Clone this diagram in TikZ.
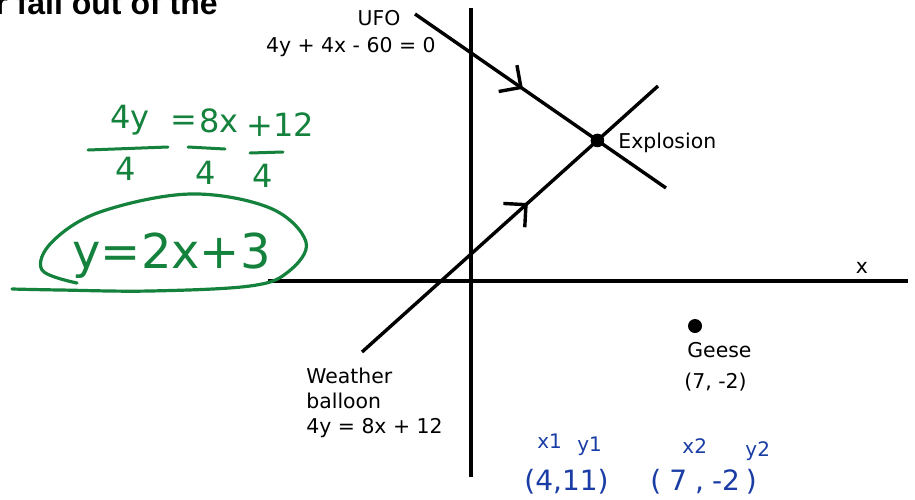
\documentclass[tikz,border=0pt]{standalone}
\usepackage{fontspec}
\setmainfont{DejaVu Sans}
\newfontfamily\headfont{Liberation Sans}
\usetikzlibrary{arrows.meta,decorations.markings}
\definecolor{inkgreen}{RGB}{20,130,60}
\definecolor{inkblue}{RGB}{25,60,165}
\tikzset{
  axis/.style={line width=1.7pt},
  pathline/.style={line width=1.7pt,postaction={decorate},
    decoration={markings,mark=at position #1 with {\arrow{Straight Barb[length=8pt,width=16pt]}}}},
  lbl/.style={inner sep=0pt,font=\fontsize{10.2}{12.5}\selectfont},
  greenink/.style={inner sep=0pt,text=inkgreen,font=\fontsize{16}{18}\selectfont},
  greenstroke/.style={inkgreen,line width=1.5pt,line cap=round},
  blueink/.style={inner sep=0pt,text=inkblue,font=\fontsize{14}{16}\selectfont},
  bluesmall/.style={inner sep=0pt,text=inkblue,font=\fontsize{10}{11}\selectfont},
}

\begin{document}
\begin{tikzpicture}[x=0.5pt,y=-0.5pt]
\useasboundingbox (0,0) rectangle (915,499);
\clip (0,0) rectangle (915,499);
\node[inner sep=0pt,anchor=base east,font=\headfont\bfseries\fontsize{16}{18}\selectfont] (head) at (218,14) {r fall out of the};

% axes
\coordinate (yTop) at (471,8);
\coordinate (yBot) at (471,477);
\coordinate (xLeft) at (268,281);
\coordinate (xRight) at (908,281);
\draw[axis] (yTop) -- (yBot);
\draw[axis] (xLeft) -- (xRight);
\node[lbl,anchor=base] (xlab) at (862,273) {x};

% paths
\coordinate (ufoA) at (415,14);
\coordinate (ufoB) at (666,188);
\coordinate (wbA) at (362,352);
\coordinate (wbB) at (658,86);
\draw[pathline=0.43] (ufoA) -- (ufoB);
\draw[pathline=0.56] (wbA) -- (wbB);
\coordinate (boom) at (intersection of ufoA--ufoB and wbA--wbB);
\fill (boom) circle (3.4pt);
\node[lbl,anchor=base west] (explosion) at (618,148) {Explosion};
\node[lbl,anchor=base] (ufo) at (379,25) {UFO};
\node[lbl,anchor=base east] (ufoeq) at (436,52) {4y + 4x - 60 = 0};
\node[lbl,anchor=base west] (weather) at (306,383) {Weather};
\node[lbl,anchor=base west] (balloon) at (306,408) {balloon};
\node[lbl,anchor=base west] (wbeq) at (306,433) {4y = 8x + 12};

\fill (695,326) coordinate (geese) circle (3.5pt);
\node[lbl,anchor=base west] (geeselab) at (687,357) {Geese};
\node[lbl,anchor=base west] (geesept) at (684,388) {(7, -2)};

% green working
\node[greenink,anchor=base west] (g4y) at (110,128) {4y};
\node[greenink,anchor=base west] (geq) at (170,130) {=};
\node[greenink,anchor=base west] (g8x) at (199,132) {8x};
\node[greenink,anchor=base west] (g12) at (246,136) {+12};
\draw[greenstroke] (88,150) -- (168,147);
\draw[greenstroke] (188,147) -- (225,149);
\draw[greenstroke] (250,153) -- (283,152);
\node[greenink,anchor=base] (d1) at (126,180) {4};
\node[greenink,anchor=base] (d2) at (206,184) {4};
\node[greenink,anchor=base] (d3) at (263,187) {4};
\node[greenink,anchor=base west,font=\fontsize{24}{26}\selectfont] (result) at (72,268) {y=2x+3};
\draw[greenstroke,line width=1.6pt] plot[smooth,tension=0.6] coordinates {(77,283) (42,270) (52,242) (100,212) (190,194) (270,208) (306,242) (288,272) (250,286) (150,291) (60,290) (12,289)};

% blue working
\node[bluesmall,anchor=base west] (x1) at (537,448) {x1};
\node[bluesmall,anchor=base west] (y1) at (577,451) {y1};
\node[blueink,anchor=base west] (p1) at (524,490) {(4,11)};
\node[bluesmall,anchor=base west] (x2) at (682,453) {x2};
\node[bluesmall,anchor=base west] (y2) at (745,456) {y2};
\node[blueink,anchor=base west] (p2) at (650,490) {(\hspace{4pt}7\hspace{4pt},\hspace{4pt}-2\hspace{3pt})};
\end{tikzpicture}
\end{document}
